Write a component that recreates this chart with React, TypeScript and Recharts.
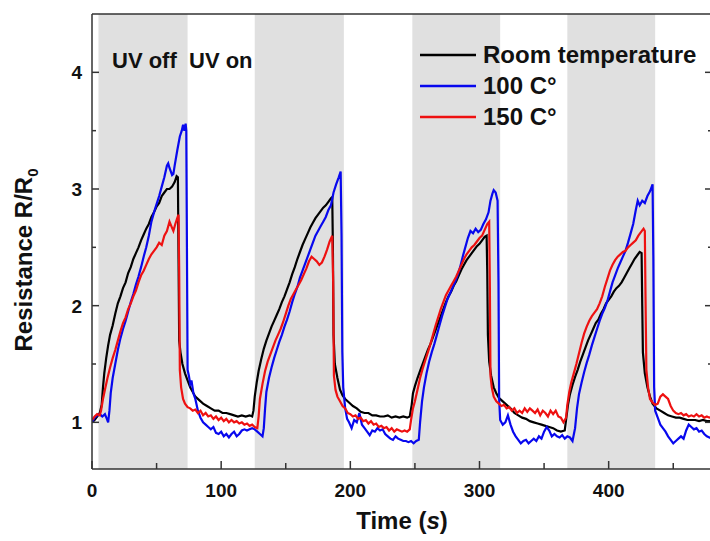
import { LineChart, Line, XAxis, YAxis, ReferenceArea } from 'recharts'

// time (s), R/R0 pairs for each sample
const roomTemp: [number, number][] = [
  [0, 1.0], [2, 1.02], [4, 1.05], [6, 1.08], [7.5, 1.15], [8.5, 1.3], [9.5, 1.42], [11, 1.55], [12.5, 1.66], [14, 1.75],
  [16, 1.83], [18, 1.93], [20, 2.02], [22, 2.08], [24, 2.15], [26, 2.2], [28, 2.28], [30, 2.33], [32, 2.4], [34, 2.45],
  [36, 2.5], [38, 2.56], [40, 2.61], [42, 2.66], [44, 2.7], [46, 2.76], [48, 2.8], [50, 2.85], [52, 2.88], [54, 2.94],
  [56, 2.97], [58, 3.0], [60, 3.0], [62, 3.02], [64, 3.06], [65.5, 3.11], [66.5, 3.1], [67, 2.4], [67.5, 1.7], [68.5, 1.6],
  [70, 1.5], [72, 1.42], [74, 1.36], [76, 1.3], [78, 1.26], [80, 1.22], [83, 1.19], [86, 1.16], [89, 1.14], [92, 1.12],
  [95, 1.1], [98, 1.1], [101, 1.08], [104, 1.08], [107, 1.07], [110, 1.06], [113, 1.05], [116, 1.06], [119, 1.05], [122, 1.06],
  [124, 1.05], [125, 1.1], [126, 1.22], [127.5, 1.34], [129, 1.44], [131, 1.54], [133, 1.63], [135, 1.7], [137, 1.76], [139, 1.82],
  [141, 1.87], [143, 1.92], [145, 1.97], [147, 2.03], [149, 2.08], [151, 2.14], [153, 2.2], [155, 2.27], [157, 2.33], [159, 2.4],
  [161, 2.46], [163, 2.52], [165, 2.57], [167, 2.62], [169, 2.67], [171, 2.71], [173, 2.75], [175, 2.78], [177, 2.81], [179, 2.84],
  [181, 2.86], [183, 2.89], [185, 2.92], [186, 2.93], [186.5, 2.5], [187, 1.75], [188, 1.5], [190, 1.38], [192, 1.28], [194, 1.23],
  [196, 1.2], [199, 1.17], [202, 1.14], [205, 1.12], [208, 1.09], [211, 1.08], [214, 1.08], [217, 1.06], [220, 1.06], [223, 1.05],
  [226, 1.05], [229, 1.06], [232, 1.04], [235, 1.05], [238, 1.04], [241, 1.05], [244, 1.04], [246, 1.05], [247.5, 1.15], [248.5, 1.25],
  [250, 1.31], [252, 1.38], [254, 1.44], [256, 1.5], [258, 1.56], [260, 1.62], [262, 1.67], [264, 1.73], [266, 1.79], [268, 1.85],
  [270, 1.91], [272, 1.97], [274, 2.03], [276, 2.08], [278, 2.12], [280, 2.17], [282, 2.21], [284, 2.26], [286, 2.31], [288, 2.35],
  [290, 2.39], [292, 2.42], [294, 2.45], [296, 2.48], [298, 2.51], [300, 2.53], [302, 2.56], [304, 2.59], [305.5, 2.6], [306, 2.3],
  [306.5, 1.75], [307.5, 1.52], [309, 1.4], [311, 1.3], [313, 1.25], [315, 1.21], [318, 1.18], [321, 1.15], [324, 1.12], [327, 1.08],
  [330, 1.06], [333, 1.04], [336, 1.03], [339, 1.01], [342, 1.0], [345, 0.99], [348, 0.98], [351, 0.97], [354, 0.96], [357, 0.95],
  [360, 0.93], [363, 0.92], [366, 0.93], [367, 1.02], [368.5, 1.15], [370, 1.24], [372, 1.32], [374, 1.39], [376, 1.45], [378, 1.52],
  [380, 1.58], [382, 1.64], [384, 1.7], [386, 1.75], [388, 1.8], [390, 1.85], [392, 1.88], [394, 1.93], [396, 1.97], [398, 2.02],
  [400, 2.05], [402, 2.08], [404, 2.12], [406, 2.15], [408, 2.17], [410, 2.2], [412, 2.24], [414, 2.28], [416, 2.32], [418, 2.36],
  [420, 2.4], [422, 2.43], [424, 2.46], [425.5, 2.45], [426, 2.0], [426.5, 1.6], [428, 1.42], [430, 1.3], [432, 1.22], [434, 1.16],
  [437, 1.12], [440, 1.1], [443, 1.08], [446, 1.06], [449, 1.05], [452, 1.04], [455, 1.04], [458, 1.03], [461, 1.02], [464, 1.02],
  [467, 1.02], [470, 1.01], [473, 1.02], [476, 1.01], [480, 1.01],
]

const temp100: [number, number][] = [
  [0, 1.0], [2, 1.04], [4, 1.06], [6, 1.07], [8, 1.05], [10, 1.07], [11.5, 1.03], [12.5, 1.0], [13.5, 1.1], [14.5, 1.25],
  [16, 1.38], [18, 1.5], [20, 1.62], [22, 1.72], [24, 1.8], [26, 1.87], [28, 1.95], [30, 2.03], [32, 2.1], [34, 2.18],
  [36, 2.25], [38, 2.33], [40, 2.42], [42, 2.5], [44, 2.6], [46, 2.72], [48, 2.8], [50, 2.87], [52, 2.94], [54, 3.02],
  [56, 3.1], [58, 3.2], [59, 3.22], [60, 3.18], [62, 3.12], [63, 3.13], [64, 3.2], [66, 3.33], [68, 3.45], [69.5, 3.5],
  [70.5, 3.55], [71.5, 3.5], [72.5, 3.56], [73, 3.5], [73.5, 2.5], [74, 1.45], [75, 1.4], [76, 1.33], [77, 1.36], [78.5, 1.25],
  [80, 1.2], [82, 1.1], [84, 1.04], [86, 1.0], [88, 0.98], [90, 0.96], [92, 0.94], [94, 0.96], [96, 0.91], [98, 0.9],
  [100, 0.92], [102, 0.88], [104, 0.9], [106, 0.87], [108, 0.9], [110, 0.92], [112, 0.88], [114, 0.9], [116, 0.93], [118, 0.94],
  [120, 0.93], [122, 0.94], [124, 0.95], [126, 0.94], [128, 0.92], [130, 0.9], [132, 0.88], [133, 0.95], [134, 1.12], [135, 1.26],
  [137, 1.38], [139, 1.47], [141, 1.55], [143, 1.62], [145, 1.69], [147, 1.75], [149, 1.82], [151, 1.88], [153, 1.95], [155, 2.03],
  [157, 2.1], [159, 2.16], [161, 2.24], [163, 2.3], [165, 2.36], [167, 2.42], [169, 2.48], [171, 2.54], [173, 2.6], [175, 2.64],
  [177, 2.68], [179, 2.72], [181, 2.76], [183, 2.82], [185, 2.86], [187, 2.97], [189, 3.04], [191, 3.1], [192.5, 3.15], [193.2, 2.6],
  [193.8, 1.6], [194.5, 1.3], [196, 1.12], [197.5, 1.03], [199, 1.0], [201, 0.95], [203, 1.02], [205, 1.0], [207, 1.08], [209, 0.98],
  [211, 0.95], [213, 0.92], [215, 0.89], [217, 0.93], [219, 0.92], [221, 0.95], [223, 0.93], [225, 0.94], [227, 0.9], [229, 0.88],
  [231, 0.86], [233, 0.85], [235, 0.88], [237, 0.86], [239, 0.85], [241, 0.84], [243, 0.84], [245, 0.83], [247, 0.84], [249, 0.82],
  [251, 0.84], [253, 0.85], [254, 1.0], [255.5, 1.18], [257, 1.3], [259, 1.42], [261, 1.52], [263, 1.6], [265, 1.67], [267, 1.75],
  [269, 1.83], [271, 1.91], [273, 1.98], [275, 2.05], [277, 2.1], [279, 2.15], [281, 2.2], [283, 2.26], [285, 2.33], [287, 2.42],
  [289, 2.5], [291, 2.58], [293, 2.64], [295, 2.62], [297, 2.66], [299, 2.63], [301, 2.65], [303, 2.7], [305, 2.74], [307, 2.8],
  [308.5, 2.9], [310, 2.96], [311, 2.99], [312.5, 2.97], [314, 2.9], [314.7, 2.2], [315.2, 1.2], [316, 1.02], [318, 0.98], [320, 1.0],
  [322, 1.06], [324, 0.98], [326, 0.92], [328, 0.88], [330, 0.85], [332, 0.82], [334, 0.84], [336, 0.85], [338, 0.82], [340, 0.84],
  [342, 0.86], [344, 0.84], [346, 0.88], [348, 0.86], [350, 0.92], [352, 0.96], [354, 0.93], [356, 0.88], [358, 0.9], [360, 0.88],
  [362, 0.87], [364, 0.89], [366, 0.86], [368, 0.88], [370, 0.87], [372, 0.84], [374, 0.95], [375.5, 1.12], [377, 1.24], [379, 1.34],
  [381, 1.43], [383, 1.51], [385, 1.58], [387, 1.66], [389, 1.73], [391, 1.8], [393, 1.87], [395, 1.93], [397, 1.98], [399, 2.04],
  [401, 2.12], [403, 2.2], [405, 2.26], [407, 2.32], [409, 2.37], [411, 2.42], [413, 2.47], [415, 2.54], [417, 2.62], [419, 2.7],
  [421, 2.82], [422.5, 2.9], [424, 2.86], [426, 2.9], [428, 2.88], [430, 2.94], [432, 2.98], [434, 3.04], [434.6, 2.4], [435.2, 1.3],
  [436, 1.1], [438, 1.04], [440, 0.98], [442, 0.95], [444, 0.92], [446, 0.88], [448, 0.85], [450, 0.82], [452, 0.84], [454, 0.86],
  [456, 0.88], [458, 0.86], [460, 0.93], [462, 0.98], [464, 0.96], [466, 0.94], [468, 0.95], [470, 0.92], [472, 0.93], [474, 0.9],
  [476, 0.88], [478, 0.87], [480, 0.86],
]

const temp150: [number, number][] = [
  [0, 1.02], [2, 1.05], [4, 1.07], [6, 1.06], [7, 1.1], [8.5, 1.2], [10, 1.28], [12, 1.38], [14, 1.47], [16, 1.55],
  [18, 1.62], [20, 1.7], [22, 1.78], [24, 1.85], [26, 1.9], [28, 1.97], [30, 2.02], [32, 2.08], [34, 2.13], [36, 2.2],
  [38, 2.26], [40, 2.3], [42, 2.35], [44, 2.4], [46, 2.44], [48, 2.47], [50, 2.5], [52, 2.54], [54, 2.52], [56, 2.6],
  [58, 2.64], [60, 2.72], [61.5, 2.68], [63, 2.64], [64.5, 2.7], [66, 2.75], [67, 2.78], [67.5, 2.3], [68, 1.45], [69, 1.3],
  [70.5, 1.2], [72, 1.16], [74, 1.13], [76, 1.12], [78, 1.1], [80, 1.11], [82, 1.08], [84, 1.1], [86, 1.06], [88, 1.08],
  [90, 1.05], [92, 1.06], [94, 1.03], [96, 1.05], [98, 1.02], [100, 1.04], [102, 1.01], [104, 1.03], [106, 1.0], [108, 1.02],
  [110, 1.0], [112, 1.01], [114, 0.99], [116, 1.0], [118, 0.98], [120, 0.99], [122, 0.97], [124, 0.98], [126, 0.96], [128, 0.95],
  [129, 1.05], [130, 1.2], [132, 1.33], [134, 1.44], [136, 1.52], [138, 1.58], [140, 1.64], [142, 1.7], [144, 1.75], [146, 1.8],
  [148, 1.86], [150, 1.93], [152, 2.0], [154, 2.06], [156, 2.1], [158, 2.14], [160, 2.18], [162, 2.22], [164, 2.27], [166, 2.32],
  [168, 2.38], [170, 2.42], [172, 2.4], [174, 2.38], [176, 2.35], [178, 2.37], [180, 2.42], [182, 2.48], [184, 2.55], [186, 2.6],
  [186.7, 2.2], [187.3, 1.4], [188.5, 1.28], [190, 1.22], [192, 1.18], [194, 1.14], [196, 1.12], [198, 1.08], [200, 1.07], [202, 1.05],
  [204, 1.06], [206, 1.03], [208, 1.04], [210, 1.01], [212, 1.02], [214, 0.99], [216, 1.01], [218, 0.98], [220, 0.99], [222, 0.96],
  [224, 0.97], [226, 0.95], [228, 0.96], [230, 0.93], [232, 0.95], [234, 0.92], [236, 0.94], [238, 0.93], [240, 0.92], [242, 0.93],
  [244, 0.92], [246, 0.94], [247, 1.02], [248.5, 1.12], [250, 1.18], [252, 1.28], [254, 1.38], [256, 1.46], [258, 1.53], [260, 1.6],
  [262, 1.67], [264, 1.75], [266, 1.83], [268, 1.9], [270, 1.97], [272, 2.03], [274, 2.09], [276, 2.13], [278, 2.17], [280, 2.21],
  [282, 2.25], [284, 2.3], [286, 2.35], [288, 2.4], [290, 2.44], [292, 2.47], [294, 2.5], [296, 2.52], [298, 2.55], [300, 2.58],
  [302, 2.6], [304, 2.65], [306, 2.7], [307.5, 2.72], [308, 2.2], [308.5, 1.4], [309.5, 1.3], [311, 1.22], [313, 1.18], [315, 1.16],
  [317, 1.14], [319, 1.15], [321, 1.12], [323, 1.13], [325, 1.1], [327, 1.12], [329, 1.08], [331, 1.1], [333, 1.08], [335, 1.12],
  [337, 1.09], [339, 1.12], [341, 1.1], [343, 1.08], [345, 1.11], [347, 1.06], [349, 1.1], [351, 1.08], [353, 1.05], [355, 1.1],
  [357, 1.07], [359, 1.1], [361, 1.05], [363, 1.04], [365, 1.0], [367, 1.04], [368, 1.15], [369.5, 1.26], [371, 1.34], [373, 1.42],
  [375, 1.5], [377, 1.59], [379, 1.68], [381, 1.76], [383, 1.82], [385, 1.87], [387, 1.91], [389, 1.94], [391, 1.97], [393, 2.02],
  [395, 2.08], [397, 2.16], [399, 2.23], [401, 2.3], [403, 2.35], [405, 2.39], [407, 2.42], [409, 2.44], [411, 2.46], [413, 2.47],
  [415, 2.5], [417, 2.52], [419, 2.54], [421, 2.56], [423, 2.6], [425, 2.63], [427, 2.66], [428, 2.64], [428.5, 2.1], [429.2, 1.45],
  [430.5, 1.3], [432, 1.2], [434, 1.17], [436, 1.15], [438, 1.16], [440, 1.22], [442, 1.24], [444, 1.22], [446, 1.2], [448, 1.14],
  [450, 1.1], [452, 1.08], [454, 1.07], [456, 1.08], [458, 1.06], [460, 1.07], [462, 1.05], [464, 1.06], [466, 1.05], [468, 1.07],
  [470, 1.05], [472, 1.06], [474, 1.04], [476, 1.05], [478, 1.04], [480, 1.05],
]

// UV off intervals (start, end) in seconds
const uvOffPeriods: [number, number][] = [[5, 74], [126, 195], [248, 316], [368, 436]]

const xTicks = [0, 50, 100, 150, 200, 250, 300, 350, 400, 450]
const xLabels = [0, 100, 200, 300, 400]
const yTicks = [1, 1.5, 2, 2.5, 3, 3.5, 4]
const yLabels = [1, 2, 3, 4]

const series = [
  { name: 'Room temperature', color: '#000000', points: roomTemp },
  { name: '100 C°', color: '#0808ee', points: temp100 },
  { name: '150 C°', color: '#ee1111', points: temp150 },
]

const FONT = '"Liberation Sans", Arial, sans-serif'
const AXIS = '#333333'

const toRows = (pts: [number, number][]) => pts.map(([t, v]) => ({ t, v }))

function BottomTick({ x, y, payload }: any) {
  const major = xLabels.includes(payload.value)
  return (
    <g>
      <line x1={x} x2={x} y1={y} y2={y - (major ? 8 : 6)} stroke={AXIS} strokeWidth={1.5} />
      {major && (
        <text x={x} y={y + 28} textAnchor="middle" fontSize={19} fontWeight="bold" fontFamily={FONT} fill="#111">
          {payload.value}
        </text>
      )}
    </g>
  )
}

function TopTick({ x, y }: any) {
  return <line x1={x} x2={x} y1={y} y2={y + 7} stroke={AXIS} strokeWidth={1.5} />
}

function LeftTick({ x, y, payload }: any) {
  const major = yLabels.includes(payload.value)
  return (
    <g>
      <line x1={x} x2={x + (major ? 7 : 4)} y1={y} y2={y} stroke={AXIS} strokeWidth={1.5} />
      {major && (
        <text x={x - 10} y={y + 7} textAnchor="end" fontSize={19} fontWeight="bold" fontFamily={FONT} fill="#111">
          {payload.value}
        </text>
      )}
    </g>
  )
}

function RightTick({ x, y, payload }: any) {
  const major = yLabels.includes(payload.value)
  return <line x1={x} x2={x - (major ? 7 : 4)} y1={y} y2={y} stroke={AXIS} strokeWidth={1.5} />
}

export default function App() {
  return (
    <div style={{ position: 'absolute', left: 0, top: 0, width: 710, height: 541, overflow: 'hidden', background: '#fff' }}>
      <LineChart width={720} height={541} margin={{ top: 13, right: 7, bottom: 0, left: 91 }}>
        {uvOffPeriods.map(([a, b]) => (
          <ReferenceArea key={a} x1={a} x2={b} fill="#e0e0e0" fillOpacity={1} stroke="none" />
        ))}
        <XAxis
          dataKey="t"
          type="number"
          domain={[0, 480]}
          ticks={xTicks}
          allowDataOverflow
          height={72}
          tickSize={0}
          tickMargin={0}
          tickLine={false}
          tick={<BottomTick />}
          axisLine={{ stroke: AXIS, strokeWidth: 1.5 }}
        />
        <XAxis
          xAxisId="top"
          orientation="top"
          type="number"
          domain={[0, 480]}
          ticks={xTicks}
          allowDataOverflow
          height={1}
          tickSize={0}
          tickMargin={0}
          tickLine={false}
          tick={<TopTick />}
          axisLine={{ stroke: AXIS, strokeWidth: 1.5 }}
        />
        <YAxis
          type="number"
          domain={[0.6, 4.5]}
          ticks={yTicks}
          allowDataOverflow
          width={1}
          tickSize={0}
          tickMargin={0}
          tickLine={false}
          tick={<LeftTick />}
          axisLine={{ stroke: AXIS, strokeWidth: 1.5 }}
        />
        <YAxis
          yAxisId="right"
          orientation="right"
          type="number"
          domain={[0.6, 4.5]}
          ticks={yTicks}
          allowDataOverflow
          width={1}
          tickSize={0}
          tickMargin={0}
          tickLine={false}
          tick={<RightTick />}
          axisLine={{ stroke: AXIS, strokeWidth: 1.5 }}
        />
        {series.map((s) => (
          <Line
            key={s.name}
            data={toRows(s.points)}
            dataKey="v"
            name={s.name}
            type="linear"
            stroke={s.color}
            strokeWidth={2.2}
            dot={false}
            activeDot={false}
            isAnimationActive={false}
          />
        ))}
      </LineChart>
      <svg width={710} height={541} style={{ position: 'absolute', left: 0, top: 0, pointerEvents: 'none' }}>
        <g fontFamily={FONT} fontWeight="bold" fill="#111">
          <text x={112} y={68} fontSize={22}>UV off</text>
          <text x={189} y={68} fontSize={22}>UV on</text>
          {series.map((s, i) => (
            <g key={s.name}>
              <line x1={420} x2={476} y1={55 + i * 31} y2={55 + i * 31} stroke={s.color} strokeWidth={2.5} />
              <text x={483} y={63 + i * 31} fontSize={24}>{s.name}</text>
            </g>
          ))}
          <text x={402} y={529} fontSize={24} textAnchor="middle">
            Time (<tspan fontStyle="italic">s</tspan>)
          </text>
          <text transform="translate(32, 260) rotate(-90)" fontSize={24} textAnchor="middle">
            Resistance R/R<tspan fontSize={15} dy={6}>0</tspan>
          </text>
        </g>
      </svg>
    </div>
  )
}
